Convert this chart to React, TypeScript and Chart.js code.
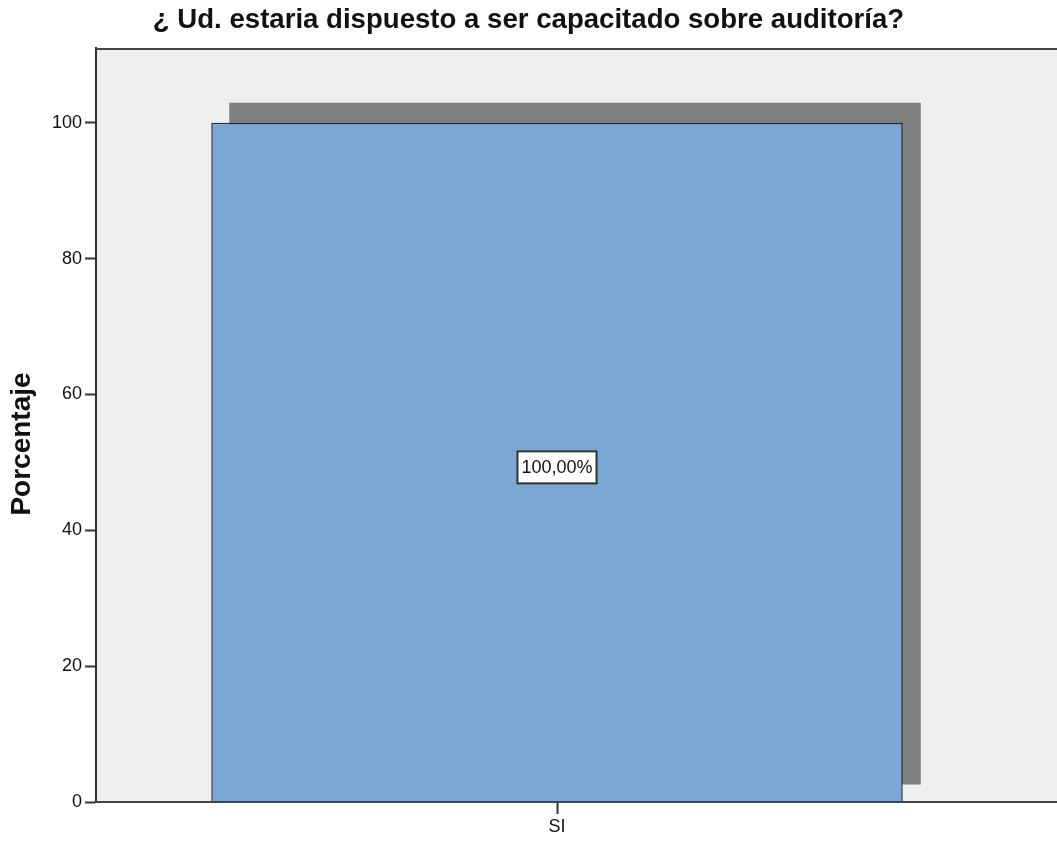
import React, { useEffect, useRef } from "react";
import { Chart, registerables } from "chart.js";

Chart.register(...registerables);

const categories = ["SI"];
const percentages = [100];
const yTicks = [0, 20, 40, 60, 80, 100];
const chartTitle = "¿ Ud. estaria dispuesto a ser capacitado sobre auditoría?";
const yAxisTitle = "Porcentaje";

const FONT = "'Liberation Sans', Arial, sans-serif";

const backgroundPlugin = {
  id: "spssBackground",
  beforeDraw(chart: any) {
    const { ctx, chartArea, width } = chart;
    ctx.save();
    ctx.fillStyle = "#efefef";
    ctx.fillRect(chartArea.left, chartArea.top, width - chartArea.left, chartArea.bottom - chartArea.top);
    ctx.restore();
  },
  afterDraw(chart: any) {
    const { ctx, chartArea, width } = chart;
    ctx.save();
    ctx.strokeStyle = "#444444";
    ctx.lineWidth = 2;
    ctx.beginPath();
    ctx.moveTo(chartArea.left, chartArea.top + 1);
    ctx.lineTo(width, chartArea.top + 1);
    ctx.stroke();
    ctx.beginPath();
    ctx.moveTo(chartArea.left, chartArea.bottom);
    ctx.lineTo(width, chartArea.bottom);
    ctx.stroke();
    // y axis title, centred a little below the plot centre as in the SPSS output
    ctx.translate(22, (chartArea.top + chartArea.bottom) / 2 + 19);
    ctx.rotate(-Math.PI / 2);
    ctx.font = `bold 28px ${FONT}`;
    ctx.fillStyle = "#111111";
    ctx.textAlign = "center";
    ctx.textBaseline = "middle";
    ctx.fillText(yAxisTitle, 0, 0);
    ctx.restore();
  },
};

const shadowPlugin = {
  id: "barShadow",
  beforeDatasetsDraw(chart: any) {
    const { ctx } = chart;
    const meta = chart.getDatasetMeta(0);
    ctx.save();
    ctx.fillStyle = "#808080";
    meta.data.forEach((bar: any) => {
      const p = bar.getProps(["x", "y", "base", "width"], true);
      const left = p.x - p.width / 2 + 18;
      const right = p.x + p.width / 2 + 18;
      const top = p.y - 20;
      const bottom = p.base - 17;
      ctx.fillRect(left, top, right - left, bottom - top);
    });
    ctx.restore();
  },
};

const labelPlugin = {
  id: "barLabels",
  afterDatasetsDraw(chart: any) {
    const { ctx } = chart;
    const meta = chart.getDatasetMeta(0);
    const yScale = chart.scales.y;
    ctx.save();
    ctx.font = `18px ${FONT}`;
    ctx.textAlign = "center";
    ctx.textBaseline = "middle";
    meta.data.forEach((bar: any, i: number) => {
      const v = percentages[i];
      const text = v.toFixed(2).replace(".", ",") + "%";
      const cx = bar.x;
      const cy = yScale.getPixelForValue(v / 2) + 5;
      const w = ctx.measureText(text).width + 8;
      const h = 32;
      ctx.fillStyle = "#ffffff";
      ctx.fillRect(cx - w / 2, cy - h / 2, w, h);
      ctx.strokeStyle = "#333333";
      ctx.lineWidth = 2;
      ctx.strokeRect(cx - w / 2, cy - h / 2, w, h);
      ctx.fillStyle = "#111111";
      ctx.fillText(text, cx, cy + 1);
    });
    ctx.restore();
  },
};

export default function App() {
  const canvasRef = useRef<HTMLCanvasElement | null>(null);

  useEffect(() => {
    document.body.style.margin = "0";
    const canvas = canvasRef.current;
    if (!canvas) return;
    const chart = new Chart(canvas, {
      type: "bar",
      data: {
        labels: categories,
        datasets: [
          {
            data: percentages,
            backgroundColor: "#7aa7d4",
            borderColor: "#2b2b2b",
            borderWidth: 1.5,
            borderSkipped: "bottom",
            barPercentage: 0.75,
            categoryPercentage: 1,
          },
        ],
      },
      options: {
        responsive: false,
        animation: false,
        devicePixelRatio: 1,
        layout: { padding: 0 },
        plugins: {
          legend: { display: false },
          tooltip: { enabled: false },
          title: {
            display: true,
            text: chartTitle,
            color: "#111111",
            font: { family: FONT, size: 27.6, weight: "bold" },
            padding: { top: 4, bottom: 10.9 },
          },
        },
        scales: {
          x: {
            offset: true,
            grid: {
              display: true,
              offset: false,
              drawOnChartArea: false,
              drawTicks: true,
              tickLength: 12,
              tickColor: "#333333",
              tickWidth: 2,
            },
            border: { display: true, color: "#444444", width: 2 },
            ticks: {
              color: "#111111",
              font: { family: FONT, size: 18 },
              padding: 2,
            },
            afterFit(scale: any) {
              scale.height = 40;
            },
          },
          y: {
            min: 0,
            max: 111,
            grid: {
              display: true,
              drawOnChartArea: false,
              drawTicks: true,
              tickLength: 11,
              tickColor: "#333333",
              tickWidth: 2,
            },
            border: { display: true, color: "#333333", width: 2 },
            afterBuildTicks(scale: any) {
              scale.ticks = yTicks.map((v) => ({ value: v }));
            },
            ticks: {
              color: "#111111",
              font: { family: FONT, size: 18 },
              padding: 3,
            },
            title: { display: false },
            afterFit(scale: any) {
              scale.width = 96;
            },
          },
          yRight: {
            position: "right",
            display: true,
            grid: { display: false },
            border: { display: false },
            ticks: { display: false },
            afterFit(scale: any) {
              scale.width = 39;
            },
          },
        },
      },
      plugins: [backgroundPlugin, shadowPlugin, labelPlugin],
    });
    return () => chart.destroy();
  }, []);

  return (
    <div style={{ width: 1057, height: 842, background: "#ffffff" }}>
      <canvas ref={canvasRef} width={1057} height={842} style={{ display: "block" }} />
    </div>
  );
}
